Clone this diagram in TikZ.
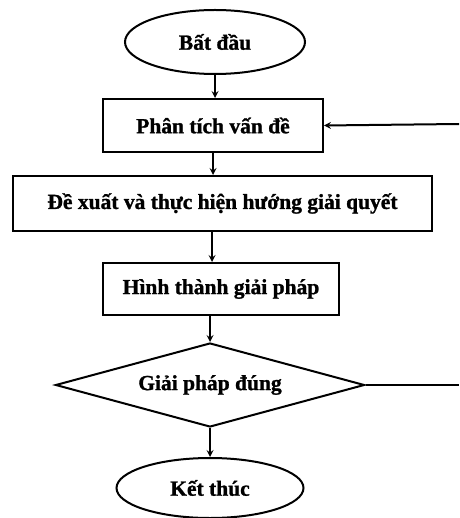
\documentclass[tikz,border=0pt]{standalone}
\usepackage{fontspec}
\setmainfont{Liberation Serif}[BoldFeatures={FakeBold=1.2}]
\usepackage{tikz}
\usetikzlibrary{shapes.geometric}

\begin{document}
\begin{tikzpicture}[x=1pt,y=-1pt,
    line width=2pt,
    every node/.style={font=\bfseries\fontsize{21.5}{26}\selectfont,inner sep=0pt},
    term/.style={draw,ellipse},
    procbox/.style={draw,rectangle},
    decide/.style={draw,diamond,aspect=3.6}]
        \useasboundingbox (0,0) rectangle (459,518);
        \node[term,minimum width=180,minimum height=64] (start) at (215,42) {Bất đầu};
        \node[procbox,minimum width=220,minimum height=53] (analyse) at (213,125.5) {Phân tích vấn đề};
        \node[procbox,minimum width=419,minimum height=55] (propose) at (222.5,203.5) {Đề xuất và thực hiện hướng giải quyết};
        \node[procbox,minimum width=236,minimum height=52] (form) at (221,289) {Hình thành giải pháp};
        \node[decide,minimum width=309,minimum height=84] (check) at (210,385) {Giải pháp đúng};
        \node[term,minimum width=187,minimum height=60] (finish) at (210,488) {Kết thúc};
        \coordinate (backin) at (459,124);
        \coordinate (backout) at (459,385);
        \draw[-stealth] (start.south) -- (start.south |- analyse.north);
        \draw[-stealth] (analyse.south) -- (analyse.south |- propose.north);
        \draw[-stealth] (212,231) -- (form.north -| 212,0);
        \draw[-stealth] (check.north |- form.south) -- (check.north);
        \draw[-stealth] (check.south) -- (finish.north);
        \draw[-stealth] (backin) -- (analyse.east);
        \draw (check.east) -- (backout);
\end{tikzpicture}
\end{document}
